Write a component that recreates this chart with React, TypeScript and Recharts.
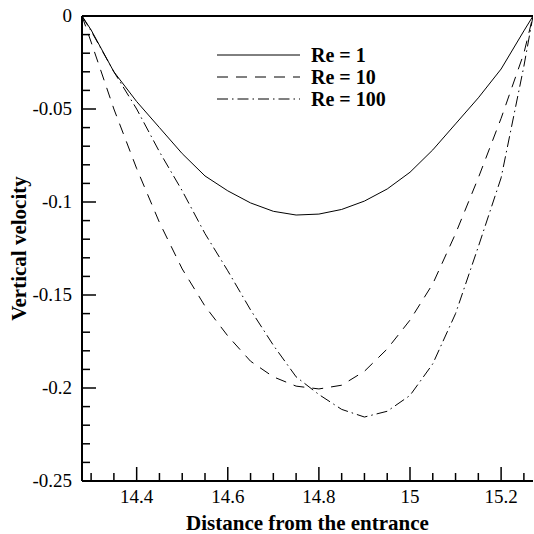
import { LineChart, Line, XAxis, YAxis, Legend, ReferenceLine } from 'recharts';

const distance = [14.28, 14.3, 14.35, 14.4, 14.45, 14.5, 14.55, 14.6, 14.65, 14.7, 14.75, 14.8, 14.85, 14.9, 14.95, 15.0, 15.05, 15.1, 15.15, 15.2, 15.25, 15.27];
const re1 = [0, -0.0075, -0.03, -0.046, -0.06, -0.074, -0.086, -0.094, -0.1005, -0.105, -0.107, -0.1065, -0.104, -0.0995, -0.093, -0.084, -0.072, -0.058, -0.044, -0.0285, -0.008, 0];
const re10 = [0, -0.014, -0.05, -0.082, -0.111, -0.136, -0.156, -0.172, -0.1856, -0.194, -0.199, -0.2005, -0.1985, -0.191, -0.179, -0.1635, -0.144, -0.117, -0.087, -0.055, -0.02, 0];
const re100 = [0, -0.008, -0.03, -0.05, -0.073, -0.094, -0.117, -0.137, -0.158, -0.177, -0.194, -0.2035, -0.2115, -0.2156, -0.2125, -0.204, -0.187, -0.16, -0.124, -0.087, -0.027, 0];

const xTicks = [14.3, 14.35, 14.4, 14.45, 14.5, 14.55, 14.6, 14.65, 14.7, 14.75, 14.8, 14.85, 14.9, 14.95, 15.0, 15.05, 15.1, 15.15, 15.2, 15.25];
const xLabels = [14.4, 14.6, 14.8, 15, 15.2];
const yTicks = [-0.25, -0.24, -0.23, -0.22, -0.21, -0.2, -0.19, -0.18, -0.17, -0.16, -0.15, -0.14, -0.13, -0.12, -0.11, -0.1, -0.09, -0.08, -0.07, -0.06, -0.05, -0.04, -0.03, -0.02, -0.01, 0];
const yLabels = [-0.25, -0.2, -0.15, -0.1, -0.05, 0];

const data = distance.map((d, i) => ({ d, re1: re1[i], re10: re10[i], re100: re100[i] }));

const FONT = 'Liberation Serif, Times New Roman, serif';

const isLabel = (v: number, list: number[]) => list.some((l) => Math.abs(l - v) < 1e-6);

function XTick(props: any) {
  const { x, y, payload } = props;
  const major = isLabel(payload.value, xLabels);
  return (
    <g>
      <line x1={x} x2={x} y1={y} y2={y - (major ? 14 : 8)} stroke="#000" strokeWidth={1.5} />
      {major && (
        <text x={x} y={y + 22} textAnchor="middle" style={{ fontFamily: FONT, fontSize: 19 }} fill="#000">
          {String(Number(payload.value.toFixed(2)))}
        </text>
      )}
    </g>
  );
}

function YTick(props: any) {
  const { x, y, payload } = props;
  const major = isLabel(payload.value, yLabels);
  return (
    <g>
      <line x1={x} x2={x + (major ? 14 : 8)} y1={y} y2={y} stroke="#000" strokeWidth={1.5} />
      {major && (
        <text x={x - 10} y={y + 6} textAnchor="end" style={{ fontFamily: FONT, fontSize: 19 }} fill="#000">
          {String(Number(payload.value.toFixed(2)))}
        </text>
      )}
    </g>
  );
}

const legendItems = [
  { name: 'Re = 1', dash: undefined },
  { name: 'Re = 10', dash: '11 8' },
  { name: 'Re = 100', dash: '11 4 1.5 4' },
];

function LegendBox() {
  return (
    <div style={{ width: 220 }}>
      {legendItems.map((it) => (
        <div key={it.name} style={{ display: 'flex', alignItems: 'center', height: 22 }}>
          <svg width={83} height={10}>
            <line x1={0} x2={83} y1={5} y2={5} stroke="#000" strokeWidth={1} strokeDasharray={it.dash} />
          </svg>
          <span style={{ marginLeft: 11, fontFamily: FONT, fontWeight: 'bold', fontSize: 20, color: '#000', lineHeight: '22px' }}>{it.name}</span>
        </div>
      ))}
    </div>
  );
}

export default function App() {
  return (
    <div style={{ position: 'absolute', left: 0, top: 0, background: '#fff', fontFamily: FONT }}>
      <LineChart width={534} height={534} data={data} margin={{ top: 16, right: 1, bottom: 0, left: 0 }} style={{ fontFamily: FONT }}>
        <XAxis
          dataKey="d"
          type="number"
          domain={[14.28, 15.27]}
          allowDataOverflow
          ticks={xTicks}
          interval={0}
          tickSize={0}
          tickMargin={0}
          tickLine={false}
          tick={<XTick />}
          height={53}
          stroke="#000"
          strokeWidth={2}
          label={{ value: 'Distance from the entrance', position: 'insideBottom', offset: 4, style: { fontFamily: FONT, fontWeight: 'bold', fontSize: 21, fill: '#000' } }}
        />
        <YAxis
          type="number"
          domain={[-0.25, 0]}
          allowDataOverflow
          ticks={yTicks}
          interval={0}
          tickSize={0}
          tickMargin={0}
          tickLine={false}
          tick={<YTick />}
          width={82}
          stroke="#000"
          strokeWidth={2}
          label={{ value: 'Vertical velocity', angle: -90, position: 'insideLeft', offset: 19, style: { textAnchor: 'middle', fontFamily: FONT, fontWeight: 'bold', fontSize: 21, fill: '#000' } }}
        />
        <ReferenceLine y={0} stroke="#000" strokeWidth={2} ifOverflow="extendDomain" />
        <Legend
          layout="horizontal"
          verticalAlign="middle"
          align="center"
          content={() => <LegendBox />}
          wrapperStyle={{ position: 'absolute', left: 217, top: 44, width: 220 }}
        />
        <Line dataKey="re1" name="Re = 1" type="linear" stroke="#000" strokeWidth={1} dot={false} isAnimationActive={false} />
        <Line dataKey="re10" name="Re = 10" type="linear" stroke="#000" strokeWidth={1} strokeDasharray="11 8" dot={false} isAnimationActive={false} />
        <Line dataKey="re100" name="Re = 100" type="linear" stroke="#000" strokeWidth={1} strokeDasharray="11 4 1.5 4" dot={false} isAnimationActive={false} />
      </LineChart>
    </div>
  );
}
